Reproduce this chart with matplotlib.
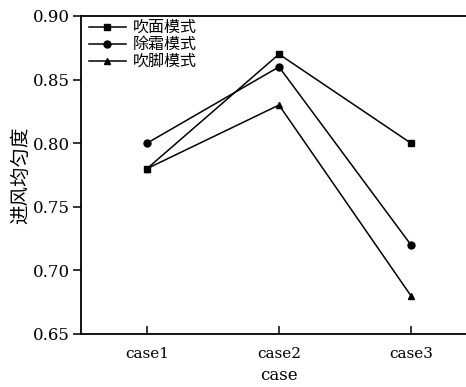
import matplotlib
matplotlib.use("Agg")
import matplotlib.pyplot as plt

cases = ["case1", "case2", "case3"]
face_mode = [0.78, 0.87, 0.80]
defrost_mode = [0.80, 0.86, 0.72]
foot_mode = [0.78, 0.83, 0.68]
series_names = ["吹面模式", "除霜模式", "吹脚模式"]
yticks = [0.65, 0.70, 0.75, 0.80, 0.85, 0.90]

cjk = ["Noto Sans CJK SC", "DejaVu Sans"]
latin = "DejaVu Serif"

W, H = 466, 387
fig = plt.figure(figsize=(W / 100, H / 100), dpi=100)
ax = fig.add_axes([81 / W, 53 / H, 396 / W, 318 / H])

x = list(range(1, len(cases) + 1))
style = dict(color="black", linewidth=1.1, markersize=5)
ax.plot(x, face_mode, marker="s", label=series_names[0], **style)
ax.plot(x, defrost_mode, marker="o", label=series_names[1], **style)
ax.plot(x, foot_mode, marker="^", label=series_names[2], **style)

ax.set_xlim(0.5, 3.5)
ax.set_ylim(0.65, 0.90)
ax.set_xticks(x)
ax.set_xticklabels(cases, fontfamily=latin, fontsize=11)
ax.set_yticks(yticks)
ax.set_yticklabels([f"{v:.2f}" for v in yticks], fontfamily=latin, fontsize=12)
ax.tick_params(axis="x", direction="in", length=6, width=1.1, pad=9)
ax.tick_params(axis="y", direction="out", length=6, width=1.1, pad=2)

for s in ax.spines.values():
    s.set_linewidth(1.3)

ax.set_xlabel("case", fontfamily=latin, fontsize=12, labelpad=5)
ax.set_ylabel("进风均匀度", fontfamily=cjk, fontsize=14, labelpad=1)

leg = ax.legend(loc="upper left", bbox_to_anchor=(0.0, 1.015), frameon=False,
                prop={"family": cjk, "size": 11.5},
                handlelength=2.3, handletextpad=0.45, labelspacing=0.0,
                borderaxespad=0.3, borderpad=0.2)

fig.savefig("out.png", dpi=100, facecolor="white")
